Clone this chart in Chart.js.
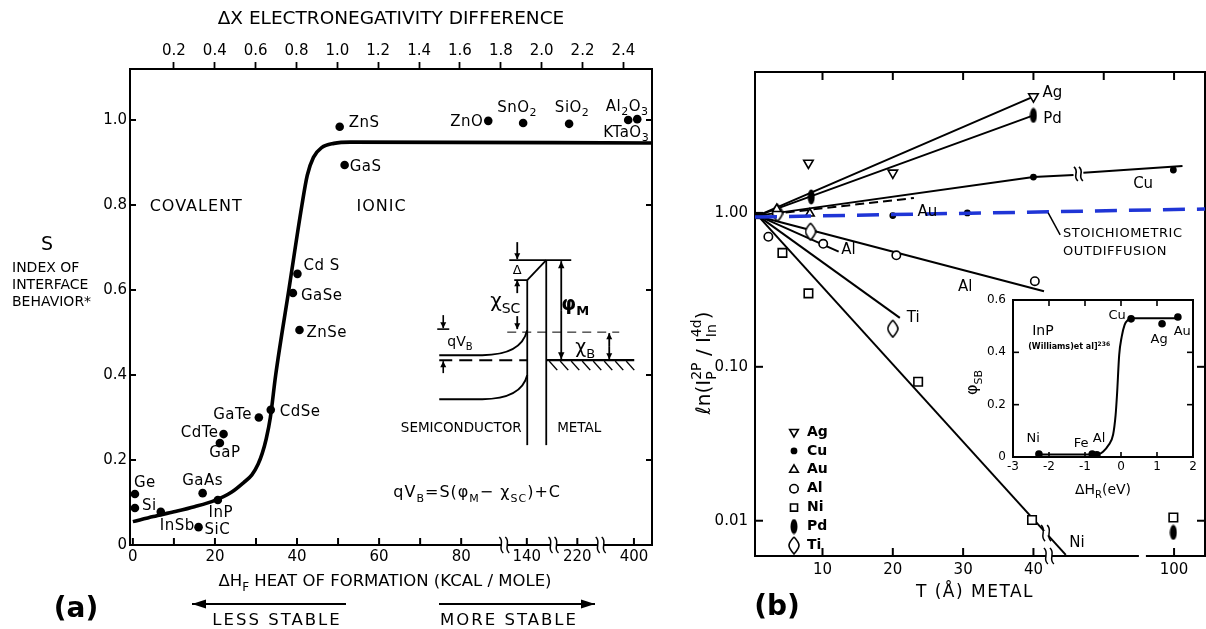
<!DOCTYPE html>
<html>
<head>
<meta charset="utf-8">
<script src="https://cdn.jsdelivr.net/npm/chart.js@4.4.1/dist/chart.umd.min.js"></script>
<style>
  html, body { margin: 0; padding: 0; background: #fff; }
  body { width: 1206px; height: 629px; position: relative; overflow: hidden; }
  canvas { position: absolute; }
  #cA { left: 0; top: 0; }
  #cB { left: 680px; top: 0; }
  #cC { left: 960px; top: 285px; }
</style>
</head>
<body>
<canvas id="cA" width="680" height="629"></canvas>
<canvas id="cB" width="546" height="629"></canvas>
<canvas id="cC" width="246" height="215"></canvas>
<script>
// ---------- panel (a) data ----------
// heat of formation is given as position on the broken axis (0..80 real, then 140 / 220 / 400)
const compounds = ["Ge", "Si", "InSb", "GaAs", "SiC", "InP", "GaP", "CdTe", "GaTe", "CdSe",
  "Cd S", "GaSe", "ZnSe", "GaS", "ZnS", "ZnO", "SnO_2", "SiO_2", "Al_2O_3", "KTaO_3"];
const heatAxis = [0.5, 0.5, 6.8, 17, 16, 20.7, 21.2, 22.1, 30.7, 33.6,
  40.1, 39, 40.6, 51.6, 50.4, 86.6, 95.1, 106.3, 120.7, 122.9];
const sIndex = [0.12, 0.087, 0.078, 0.122, 0.042, 0.106, 0.24, 0.261, 0.30, 0.318,
  0.638, 0.593, 0.506, 0.894, 0.984, 0.998, 0.993, 0.991, 1.0, 1.002];

const curveHeat = [0, 5, 10, 15, 20, 24, 27, 29, 30.5, 31.5, 32.5, 33.5, 34.8, 38, 41.2, 42.5, 44, 46, 49, 53, 126.5];
const curveS = [0.055, 0.067, 0.078, 0.09, 0.105, 0.124, 0.147, 0.165, 0.19, 0.215, 0.25, 0.30, 0.40, 0.60, 0.80, 0.87, 0.912, 0.935, 0.945, 0.948, 0.946];

const heatTicks = [0, 10, 20, 30, 40, 50, 60, 70, 80, 96, 108.3, 122.1];
const heatTickText = { 0: "0", 20: "20", 40: "40", 60: "60", 80: "80", 96: "140", 108.3: "220", 122.1: "400" };
const heatBreaks = [90.5, 102.5, 114];
const enTicks = [0.2, 0.4, 0.6, 0.8, 1.0, 1.2, 1.4, 1.6, 1.8, 2.0, 2.2, 2.4];
const sTicks = [0, 0.2, 0.4, 0.6, 0.8, 1.0];

// label placement for each compound (align, dx, dy in px)
const labelAlign = ["l", "l", "l", "c", "l", "c", "c", "r", "r", "l", "l", "l", "l", "l", "l", "r", "c", "c", "c", "c"];
const labelDx = [-1, 7, -1, 0, 6, 3, 5, -5, -7, 9, 6, 8, 7, 5, 9, -5, -6, 3, -1, -11];
const labelDy = [-11, -2, 14, -12, 3, 13, 10, -1, -2, 2, -8, 3, 3, 2, -4, 1, -15, -16, -13, 14];

// ---------- panel (b) data ----------
// T position on broken axis (100 A plotted at 60), ratio on log axis
const agT = [8, 20, 40], agR = [2.11, 1.82, 5.7];
const cuT = [20, 30.6, 40, 59.9], cuR = [0.96, 1.0, 1.71, 1.9];
const auT = [3.5, 8.2], auR = [1.06, 0.99];
const alT = [2.3, 10.1, 20.5, 40.2], alR = [0.7, 0.63, 0.53, 0.36];
const niT = [4.3, 8, 23.6, 39.8, 59.9], niR = [0.55, 0.3, 0.08, 0.0101, 0.0105];
const pdT = [8.4, 40, 59.9], pdR = [1.27, 4.3, 0.0084];
const tiT = [3.6, 8.3, 20], tiR = [1.0, 0.756, 0.177];

const agFitT = [0.8, 40], agFitR = [0.96, 5.7];
const pdFitT = [0.8, 40], pdFitR = [0.96, 4.3];
const cuFitT = [0.8, 40, 45.7, 46.4, 47.1, 61.2], cuFitR = [0.96, 1.71, 1.76, null, 1.82, 2.02];
const auFitT = [0.8, 23], auFitR = [0.96, 1.25];
const alShortT = [0.8, 12.3], alShortR = [0.96, 0.56];
const alLongT = [0.8, 41.5], alLongR = [0.95, 0.31];
const tiFitT = [0.8, 21], tiFitR = [0.96, 0.208];
const niFitT = [0.8, 44.6], niFitR = [0.96, 0.006];
const stoichT = [0.4, 64.4], stoichR = [0.94, 1.06];
const originT = [0.8], originR = [0.96];

const tTicks = [10, 20, 30, 40, 60];
const tTopTicks = [10, 20, 30, 40, 50, 60];
const rTicks = [0.01, 0.1, 1];

const lineLabels = ["Ag", "Pd", "Cu", "Au", "Al", "Al", "Ti", "Ni"];
const lineLabelT = [42.7, 42.7, 55.6, 24.9, 13.7, 30.3, 22.9, 46.2];
const lineLabelR = [6.0, 4.08, 1.54, 1.015, 0.575, 0.33, 0.208, 0.0072];

// ---------- inset data ----------
const insetNames = ["Ni", "Fe", "Al", "Cu", "Ag", "Au"];
const insetH = [-2.28, -0.8, -0.67, 0.28, 1.14, 1.58];
const insetPhi = [0.011, 0.011, 0.008, 0.528, 0.509, 0.535];
const insetLabelH = [-2.44, -1.11, -0.61, -0.11, 1.06, 1.7];
const insetLabelPhi = [0.069, 0.053, 0.069, 0.54, 0.45, 0.478];
const insetCurveH = [-2.3, -0.8, -0.6, -0.5, -0.35, -0.22, -0.15, -0.11, -0.05, 0.02, 0.1, 0.2, 0.3, 1.6];
const insetCurvePhi = [0.01, 0.01, 0.012, 0.02, 0.045, 0.085, 0.16, 0.24, 0.39, 0.46, 0.505, 0.525, 0.53, 0.53];

const FONT = "'DejaVu Sans', 'Liberation Sans', sans-serif";
Chart.defaults.font.family = FONT;
Chart.defaults.color = "#000";

// ---------- drawing helpers ----------
function line(ctx, x1, y1, x2, y2) {
  ctx.beginPath(); ctx.moveTo(x1, y1); ctx.lineTo(x2, y2); ctx.stroke();
}

function arrow(ctx, x1, y1, x2, y2, head = 7, wing = 3.2) {
  line(ctx, x1, y1, x2, y2);
  const a = Math.atan2(y2 - y1, x2 - x1);
  const c = Math.cos(a), s = Math.sin(a);
  ctx.beginPath();
  ctx.moveTo(x2, y2);
  ctx.lineTo(x2 - head * c + wing * s, y2 - head * s - wing * c);
  ctx.lineTo(x2 - head * c - wing * s, y2 - head * s + wing * c);
  ctx.closePath(); ctx.fill();
}

// "_x" / "_{xy}" subscript, "^x" / "^{xy}" superscript
function richParts(s) {
  const out = [];
  let i = 0, buf = "";
  while (i < s.length) {
    const c = s[i];
    if (c === "_" || c === "^") {
      if (buf) { out.push([buf, 0]); buf = ""; }
      let t;
      if (s[i + 1] === "{") { const j = s.indexOf("}", i + 2); t = s.slice(i + 2, j); i = j + 1; }
      else { t = s[i + 1]; i += 2; }
      out.push([t, c === "_" ? 1 : -1]);
    } else { buf += c; i++; }
  }
  if (buf) out.push([buf, 0]);
  return out;
}

function drawRich(ctx, s, x, y, size, align = "left", weight = "normal") {
  const parts = richParts(s);
  const fnt = p => `${weight} ${p[1] ? Math.round(size * 0.7) : size}px ${FONT}`;
  const widths = parts.map(p => { ctx.font = fnt(p); return ctx.measureText(p[0]).width; });
  // a superscript directly followed by a subscript is stacked
  let w = 0;
  for (let i = 0; i < parts.length; i++) {
    if (parts[i][1] === -1 && parts[i + 1] && parts[i + 1][1] === 1) { w += Math.max(widths[i], widths[i + 1]); i++; }
    else w += widths[i];
  }
  let cx = align === "center" ? x - w / 2 : align === "right" ? x - w : x;
  ctx.textAlign = "left"; ctx.textBaseline = "middle";
  for (let i = 0; i < parts.length; i++) {
    const p = parts[i];
    ctx.font = fnt(p);
    ctx.fillText(p[0], cx, y + p[1] * size * 0.36);
    if (p[1] === -1 && parts[i + 1] && parts[i + 1][1] === 1) {
      const q = parts[i + 1];
      ctx.font = fnt(q);
      ctx.fillText(q[0], cx, y + size * 0.36);
      cx += Math.max(widths[i], widths[i + 1]); i++;
    } else cx += widths[i];
  }
}

// little "≀≀" break symbol across a horizontal line
function breakMark(ctx, px, py) {
  ctx.save();
  ctx.fillStyle = "#fff";
  ctx.fillRect(px - 3, py - 2.5, 6, 5);
  ctx.strokeStyle = "#000"; ctx.lineWidth = 1.5;
  [-3, 3].forEach(d => {
    ctx.beginPath();
    ctx.moveTo(px + d - 2, py - 8);
    ctx.bezierCurveTo(px + d + 4, py - 3, px + d - 4, py + 3, px + d + 2, py + 8);
    ctx.stroke();
  });
  ctx.restore();
}

function makeSymbol(w, h, draw) {
  const c = document.createElement("canvas");
  c.width = w; c.height = h;
  draw(c.getContext("2d"), w, h);
  return c;
}
const pdSym = makeSymbol(8, 16, (g, w, h) => {
  g.fillStyle = "#000"; g.beginPath();
  g.ellipse(w / 2, h / 2, w / 2 - 0.5, h / 2 - 0.5, 0, 0, Math.PI * 2); g.fill();
});
const tiSym = makeSymbol(12, 19, (g, w, h) => {
  g.strokeStyle = "#000"; g.lineWidth = 1.6; g.fillStyle = "#fff"; g.beginPath();
  g.moveTo(w / 2, 1); g.quadraticCurveTo(w - 1, h / 2 - 3, w - 1, h / 2);
  g.quadraticCurveTo(w - 1, h / 2 + 3, w / 2, h - 1);
  g.quadraticCurveTo(1, h / 2 + 3, 1, h / 2);
  g.quadraticCurveTo(1, h / 2 - 3, w / 2, 1);
  g.fill(); g.stroke();
});

const metalStyle = {
  Ag: { pointStyle: "triangle", rotation: 180, radius: 5.5, fill: "#fff" },
  Cu: { pointStyle: "circle", rotation: 0, radius: 2.6, fill: "#000" },
  Au: { pointStyle: "triangle", rotation: 0, radius: 5, fill: "#fff" },
  Al: { pointStyle: "circle", rotation: 0, radius: 4.2, fill: "#fff" },
  Ni: { pointStyle: "rect", rotation: 0, radius: 6, fill: "#fff" },
  Pd: { pointStyle: pdSym, rotation: 0, radius: 6, fill: "#000" },
  Ti: { pointStyle: tiSym, rotation: 0, radius: 7, fill: "#fff" }
};

// horizontal axes: no extra side padding for edge labels
const noSidePad = h => s => { s.height = h; s.paddingLeft = 0; s.paddingRight = 0; };

// ---------- panel (a) overlay ----------
function drawBand(ctx, ax, ay) {
  ctx.save();
  ctx.translate(ax, ay);
  ctx.strokeStyle = "#000"; ctx.fillStyle = "#000"; ctx.lineWidth = 1.8;
  // barrier
  line(ctx, 0, -80, 0, 85);
  line(ctx, 19, -100, 19, 85);
  line(ctx, 0, -80, 19, -100);
  line(ctx, -18, -100, 44, -100);
  line(ctx, -13, -80, 0, -80);
  // delta / chi_sc arrows
  arrow(ctx, -10, -118, -10, -101, 6, 3);
  arrow(ctx, -10, -67, -10, -80, 6, 3);
  arrow(ctx, -10, -44, -10, -31, 6, 3);
  drawRich(ctx, "Δ", -10, -90, 13, "center");
  drawRich(ctx, "χ_{SC}", -22, -58, 20, "center");
  // thin reference line
  ctx.save(); ctx.lineWidth = 1; ctx.setLineDash([9, 6]);
  line(ctx, -20, -28, 92, -28); ctx.restore();
  // phi_M and chi_B
  arrow(ctx, 34, -50, 34, -99, 7, 3.2); arrow(ctx, 34, -50, 34, -1, 7, 3.2);
  drawRich(ctx, "φ_M", 48, -55, 19, "center", "bold");
  arrow(ctx, 82, -14, 82, -27, 6, 3); arrow(ctx, 82, -14, 82, -1, 6, 3);
  drawRich(ctx, "χ_B", 58, -12, 19, "center");
  // metal Fermi level and hatching
  ctx.lineWidth = 2.4;
  line(ctx, 19, 0, 107, 0);
  ctx.lineWidth = 1.5;
  for (let x = 22; x <= 100; x += 11) line(ctx, x, 1, x + 8, 10);
  // semiconductor bands
  ctx.lineWidth = 2;
  ctx.beginPath(); ctx.moveTo(-88, -5); ctx.lineTo(-45, -5); ctx.quadraticCurveTo(-6, -5, 0, -30); ctx.stroke();
  ctx.beginPath(); ctx.moveTo(-88, 39); ctx.lineTo(-45, 39); ctx.quadraticCurveTo(-6, 39, 0, 15); ctx.stroke();
  ctx.save(); ctx.setLineDash([13, 7]); line(ctx, -88, 0, 0, 0); ctx.restore();
  // qV_B
  ctx.lineWidth = 1.6;
  arrow(ctx, -84, -45, -84, -32, 6, 3);
  line(ctx, -90, -31, -78, -31);
  arrow(ctx, -84, 13, -84, 1, 6, 3);
  drawRich(ctx, "qV_B", -80, -18, 14, "left");
  drawRich(ctx, "SEMICONDUCTOR", -66, 68, 13.5, "center");
  drawRich(ctx, "METAL", 52, 68, 13.5, "center");
  ctx.restore();
}

const panelA = {
  id: "panelA",
  afterDraw(chart) {
    const { ctx, chartArea: a, scales: { x, y } } = chart;
    ctx.save();
    ctx.strokeStyle = "#000"; ctx.fillStyle = "#000"; ctx.lineWidth = 2;
    sTicks.forEach(v => {
      const py = y.getPixelForValue(v);
      if (v > 0) { line(ctx, a.left, py, a.left + 6, py); line(ctx, a.right, py, a.right - 6, py); }
    });
    heatTicks.forEach(v => {
      const px = x.getPixelForValue(v);
      line(ctx, px, a.bottom, px, a.bottom - 7);
    });
    heatBreaks.forEach(v => breakMark(ctx, x.getPixelForValue(v), a.bottom));

    // compound labels
    ctx.letterSpacing = "0.5px";
    compounds.forEach((name, i) => {
      const px = x.getPixelForValue(heatAxis[i]) + labelDx[i];
      const py = y.getPixelForValue(sIndex[i]) + labelDy[i];
      const al = labelAlign[i] === "l" ? "left" : labelAlign[i] === "r" ? "right" : "center";
      drawRich(ctx, name, px, py, 15, al);
    });

    ctx.letterSpacing = "1px";
    drawRich(ctx, "COVALENT", x.getPixelForValue(4.1), y.getPixelForValue(0.795), 16, "left");
    drawRich(ctx, "IONIC", x.getPixelForValue(54.5), y.getPixelForValue(0.795), 16, "left");
    drawRich(ctx, "qV_B=S(φ_M− χ_{SC})+C", x.getPixelForValue(83.9), y.getPixelForValue(0.122), 16, "center");
    ctx.letterSpacing = "0px";

    drawBand(ctx, x.getPixelForValue(96.1), y.getPixelForValue(0.435));

    // y-axis title block
    drawRich(ctx, "S", 47, 245, 19, "center");
    ["INDEX OF", "INTERFACE", "BEHAVIOR*"].forEach((t, i) => drawRich(ctx, t, 12, 268 + i * 17, 14, "left"));

    // x-axis title and footer
    drawRich(ctx, "ΔH_F HEAT OF FORMATION (KCAL / MOLE)", (a.left + a.right) / 2 - 6, a.bottom + 37, 16.5, "center");
    drawRich(ctx, "(a)", 76, 610, 28, "center", "bold");
    ctx.lineWidth = 2;
    arrow(ctx, 346, 604, 192, 604, 14, 4.5);
    arrow(ctx, 439, 604, 595, 604, 14, 4.5);
    ctx.letterSpacing = "2px";
    drawRich(ctx, "LESS STABLE", 277, 621, 16.5, "center");
    drawRich(ctx, "MORE STABLE", 509, 621, 16.5, "center");
    ctx.restore();
  }
};

const chartA = new Chart(document.getElementById("cA"), {
  data: {
    datasets: [
      {
        type: "scatter", label: "compounds",
        data: heatAxis.map((h, i) => ({ x: h, y: sIndex[i] })),
        pointRadius: 4.3, pointBackgroundColor: "#000", pointBorderColor: "#000", pointBorderWidth: 0
      },
      {
        type: "line", label: "S trend",
        data: curveHeat.map((h, i) => ({ x: h, y: curveS[i] })),
        borderColor: "#000", borderWidth: 3.6, pointRadius: 0,
        cubicInterpolationMode: "monotone", fill: false
      }
    ]
  },
  options: {
    responsive: false, animation: false, events: [],
    layout: { padding: 0 },
    plugins: { legend: { display: false }, tooltip: { enabled: false } },
    scales: {
      x: {
        type: "linear", position: "bottom", min: -0.7, max: 126.5,
        afterBuildTicks: s => { s.ticks = heatTicks.map(v => ({ value: v })); },
        afterFit: noSidePad(84),
        ticks: { autoSkip: false, maxRotation: 0, padding: 3, font: { size: 15 },
          callback: v => heatTickText[v] || "" },
        grid: { display: false, drawTicks: false },
        border: { display: true, color: "#000", width: 2 }
      },
      x2: {
        type: "linear", position: "top", min: -0.015, max: 2.54,
        afterBuildTicks: s => { s.ticks = enTicks.map(v => ({ value: v })); },
        afterFit: noSidePad(69),
        ticks: { autoSkip: false, maxRotation: 0, padding: 2, font: { size: 15 },
          callback: v => v.toFixed(1) },
        grid: { display: true, drawOnChartArea: false, tickLength: 7, tickWidth: 1.8, color: "#000" },
        border: { display: true, color: "#000", width: 2 },
        title: { display: true, text: "ΔX ELECTRONEGATIVITY DIFFERENCE", font: { size: 18.5 }, padding: { top: 8, bottom: 0 } }
      },
      y: {
        type: "linear", position: "left", min: 0, max: 1.12,
        afterBuildTicks: s => { s.ticks = sTicks.map(v => ({ value: v })); },
        afterFit: s => { s.width = 130; },
        ticks: { padding: 3, font: { size: 15 }, callback: v => v === 0 ? "0" : v.toFixed(1) },
        grid: { display: false, drawTicks: false },
        border: { display: true, color: "#000", width: 2 }
      },
      y2: {
        type: "linear", position: "right", min: 0, max: 1.12,
        afterFit: s => { s.width = 28; },
        ticks: { display: false }, grid: { display: false, drawTicks: false },
        border: { display: true, color: "#000", width: 2 }
      }
    }
  },
  plugins: [panelA]
});

// ---------- panel (b) ----------
const fit = (label, T, R, extra = {}) => ({
  type: "line", label, order: 2,
  data: T.map((t, i) => ({ x: t, y: R[i] })),
  borderColor: "#000", borderWidth: 2, pointRadius: 0, spanGaps: false, fill: false, ...extra
});
const marks = (name, T, R) => {
  const st = metalStyle[name];
  return {
    type: "scatter", label: name, order: 1,
    data: T.map((t, i) => ({ x: t, y: R[i] })),
    pointStyle: st.pointStyle, rotation: st.rotation, pointRadius: st.radius,
    pointBackgroundColor: st.fill, pointBorderColor: "#000", pointBorderWidth: 1.6
  };
};

const panelB = {
  id: "panelB",
  afterDraw(chart) {
    const { ctx, chartArea: a, scales: { x, y } } = chart;
    ctx.save();
    ctx.strokeStyle = "#000"; ctx.fillStyle = "#000"; ctx.lineWidth = 2;
    rTicks.forEach(v => {
      const py = y.getPixelForValue(v);
      line(ctx, a.left, py, a.left + 8, py);
      if (v < 1) line(ctx, a.right, py, a.right - 8, py);
    });
    tTicks.forEach(v => { const px = x.getPixelForValue(v); line(ctx, px, a.bottom, px, a.bottom - 8); });
    tTopTicks.forEach(v => { const px = x.getPixelForValue(v); line(ctx, px, a.top, px, a.top + 8); });

    // axis / line breaks
    breakMark(ctx, x.getPixelForValue(42.2), a.bottom);
    breakMark(ctx, x.getPixelForValue(41.8), y.getPixelForValue(0.0083));
    ctx.fillStyle = "#fff";
    ctx.fillRect(x.getPixelForValue(55), a.bottom - 2, 7, 4);
    ctx.fillStyle = "#000";
    ctx.save(); ctx.lineWidth = 1.6;
    const cbx = x.getPixelForValue(46.4), cby = y.getPixelForValue(1.79);
    [-2.5, 2.5].forEach(d => {
      ctx.beginPath(); ctx.moveTo(cbx + d - 2, cby - 7);
      ctx.bezierCurveTo(cbx + d + 4, cby - 2, cbx + d - 4, cby + 2, cbx + d + 2, cby + 7); ctx.stroke();
    });
    ctx.restore();

    // line labels
    lineLabels.forEach((t, i) => drawRich(ctx, t, x.getPixelForValue(lineLabelT[i]), y.getPixelForValue(lineLabelR[i]), 15, "center"));

    // stoichiometric note
    ctx.lineWidth = 1.5;
    line(ctx, x.getPixelForValue(42.1), y.getPixelForValue(1.0), x.getPixelForValue(43.8), y.getPixelForValue(0.72));
    ctx.letterSpacing = "0.5px";
    drawRich(ctx, "STOICHIOMETRIC", x.getPixelForValue(44.2), y.getPixelForValue(0.73), 13, "left");
    drawRich(ctx, "OUTDIFFUSION", x.getPixelForValue(44.2), y.getPixelForValue(0.558), 13, "left");
    ctx.letterSpacing = "0px";

    // legend
    const names = ["Ag", "Cu", "Au", "Al", "Ni", "Pd", "Ti"];
    names.forEach((n, i) => {
      const st = metalStyle[n];
      const sx = a.left + 39, sy = a.bottom - 124 + i * 18.9;
      ctx.fillStyle = st.fill; ctx.strokeStyle = "#000"; ctx.lineWidth = 1.6;
      if (Chart.helpers && Chart.helpers.drawPoint) {
        Chart.helpers.drawPoint(ctx, { pointStyle: st.pointStyle, rotation: st.rotation, radius: Math.min(st.radius, 5), borderWidth: 1.6 }, sx, sy);
      }
      ctx.fillStyle = "#000";
      drawRich(ctx, n, a.left + 52, sy, 14, "left", "bold");
    });

    // axis titles (canvas starts at page x = 680)
    ctx.save();
    ctx.translate(25, 363); ctx.rotate(-Math.PI / 2);
    drawRich(ctx, "ℓn(I^{2P}_{P} / I^{4d}_{In})", 0, 0, 20, "center");
    ctx.restore();
    ctx.letterSpacing = "1.5px";
    drawRich(ctx, "T (Å) METAL", (a.left + a.right) / 2 - 5, a.bottom + 37, 17, "center");
    ctx.letterSpacing = "0px";
    drawRich(ctx, "(b)", 97, 608, 28, "center", "bold");
    ctx.restore();
  }
};

const chartB = new Chart(document.getElementById("cB"), {
  data: {
    datasets: [
      fit("Stoichiometric outdiffusion", stoichT, stoichR, { borderColor: "#1f35d6", borderWidth: 3.5, borderDash: [22, 12], order: 0 }),
      marks("Ag", agT, agR), marks("Cu", cuT, cuR), marks("Au", auT, auR), marks("Al", alT, alR),
      marks("Ni", niT, niR), marks("Pd", pdT, pdR), marks("Ti", tiT, tiR),
      {
        type: "scatter", label: "origin", order: 1,
        data: originT.map((t, i) => ({ x: t, y: originR[i] })),
        pointStyle: "rect", pointRadius: 5, pointBackgroundColor: "#000", pointBorderWidth: 0
      },
      fit("Ag fit", agFitT, agFitR), fit("Pd fit", pdFitT, pdFitR), fit("Cu fit", cuFitT, cuFitR),
      fit("Au fit", auFitT, auFitR, { borderDash: [9, 5] }),
      fit("Al fit short", alShortT, alShortR), fit("Al fit", alLongT, alLongR),
      fit("Ti fit", tiFitT, tiFitR), fit("Ni fit", niFitT, niFitR)
    ]
  },
  options: {
    responsive: false, animation: false, events: [],
    layout: { padding: 0 },
    plugins: { legend: { display: false }, tooltip: { enabled: false } },
    scales: {
      x: {
        type: "linear", position: "bottom", min: 0.4, max: 64.4,
        afterBuildTicks: s => { s.ticks = tTicks.map(v => ({ value: v })); },
        afterFit: noSidePad(73),
        ticks: { autoSkip: false, maxRotation: 0, padding: 5, font: { size: 15 }, callback: v => v === 60 ? "100" : String(v) },
        grid: { display: false, drawTicks: false },
        border: { display: true, color: "#000", width: 2 }
      },
      x2: {
        type: "linear", position: "top", min: 0.4, max: 64.4,
        afterFit: noSidePad(72),
        ticks: { display: false }, grid: { display: false, drawTicks: false },
        border: { display: true, color: "#000", width: 2 }
      },
      y: {
        type: "logarithmic", position: "left", min: 0.0059, max: 8.23,
        afterBuildTicks: s => { s.ticks = rTicks.map(v => ({ value: v })); },
        afterFit: s => { s.width = 75; },
        ticks: { padding: 7, font: { size: 15 }, callback: v => v >= 1 ? "1.00" : v >= 0.1 ? "0.10" : "0.01" },
        grid: { display: false, drawTicks: false },
        border: { display: true, color: "#000", width: 2 }
      },
      y2: {
        // canvas runs 20px past the page edge; this box keeps the frame at page x = 1205
        type: "linear", position: "right", min: 0, max: 1,
        afterFit: s => { s.width = 21; },
        ticks: { display: false }, grid: { display: false, drawTicks: false },
        border: { display: true, color: "#000", width: 2 }
      }
    }
  },
  plugins: [panelB]
});

// ---------- inset ----------
const insetPlugin = {
  id: "insetPlugin",
  beforeDraw(chart) {
    const { ctx, chartArea: a } = chart;
    ctx.save(); ctx.fillStyle = "#fff";
    ctx.fillRect(a.left, a.top, a.right - a.left, a.bottom - a.top);
    ctx.restore();
  },
  afterDraw(chart) {
    const { ctx, chartArea: a, scales: { x, y } } = chart;
    ctx.save();
    ctx.strokeStyle = "#000"; ctx.fillStyle = "#000"; ctx.lineWidth = 1.6;
    [-2, -1, 0, 1].forEach(v => {
      const px = x.getPixelForValue(v);
      line(ctx, px, a.top, px, a.top + 6); line(ctx, px, a.bottom, px, a.bottom - 5);
    });
    [0.2, 0.4].forEach(v => {
      const py = y.getPixelForValue(v);
      line(ctx, a.left, py, a.left + 6, py); line(ctx, a.right, py, a.right - 6, py);
    });
    insetNames.forEach((n, i) => drawRich(ctx, n, x.getPixelForValue(insetLabelH[i]), y.getPixelForValue(insetLabelPhi[i]), 13, "center"));
    drawRich(ctx, "InP", x.getPixelForValue(-2.17), y.getPixelForValue(0.48), 14, "center");
    drawRich(ctx, "(Williams)et al]^{236}", x.getPixelForValue(-1.44), y.getPixelForValue(0.42), 8, "center", "bold");
    drawRich(ctx, "ΔH_R(eV)", (a.left + a.right) / 2, a.bottom + 33, 14, "center");
    ctx.save();
    ctx.translate(13, (a.top + a.bottom) / 2 + 4); ctx.rotate(-Math.PI / 2);
    drawRich(ctx, "φ_{SB}", 0, 0, 16, "center");
    ctx.restore();
    ctx.restore();
  }
};

const chartC = new Chart(document.getElementById("cC"), {
  data: {
    datasets: [
      {
        type: "scatter", label: "InP contacts",
        data: insetH.map((h, i) => ({ x: h, y: insetPhi[i] })),
        pointRadius: 3.8, pointBackgroundColor: "#000", pointBorderWidth: 0
      },
      {
        type: "line", label: "InP trend",
        data: insetCurveH.map((h, i) => ({ x: h, y: insetCurvePhi[i] })),
        borderColor: "#000", borderWidth: 2, pointRadius: 0, cubicInterpolationMode: "monotone", fill: false
      }
    ]
  },
  options: {
    responsive: false, animation: false, events: [],
    layout: { padding: 0 },
    plugins: { legend: { display: false }, tooltip: { enabled: false } },
    scales: {
      x: {
        type: "linear", position: "bottom", min: -3, max: 2,
        afterBuildTicks: s => { s.ticks = [-3, -2, -1, 0, 1, 2].map(v => ({ value: v })); },
        afterFit: noSidePad(43),
        ticks: { autoSkip: false, maxRotation: 0, padding: 3, font: { size: 12 } },
        grid: { display: false, drawTicks: false },
        border: { display: true, color: "#000", width: 2 }
      },
      x2: {
        type: "linear", position: "top", min: -3, max: 2,
        afterFit: noSidePad(15),
        ticks: { display: false }, grid: { display: false, drawTicks: false },
        border: { display: true, color: "#000", width: 2 }
      },
      y: {
        type: "linear", position: "left", min: 0, max: 0.6,
        afterBuildTicks: s => { s.ticks = [0, 0.2, 0.4, 0.6].map(v => ({ value: v })); },
        afterFit: s => { s.width = 53; },
        ticks: { padding: 7, font: { size: 12 }, callback: v => v === 0 ? "0" : v.toFixed(1) },
        grid: { display: false, drawTicks: false },
        border: { display: true, color: "#000", width: 2 }
      },
      y2: {
        type: "linear", position: "right", min: 0, max: 0.6,
        afterFit: s => { s.width = 13; },
        ticks: { display: false }, grid: { display: false, drawTicks: false },
        border: { display: true, color: "#000", width: 2 }
      }
    }
  },
  plugins: [insetPlugin]
});
</script>
</body>
</html>
